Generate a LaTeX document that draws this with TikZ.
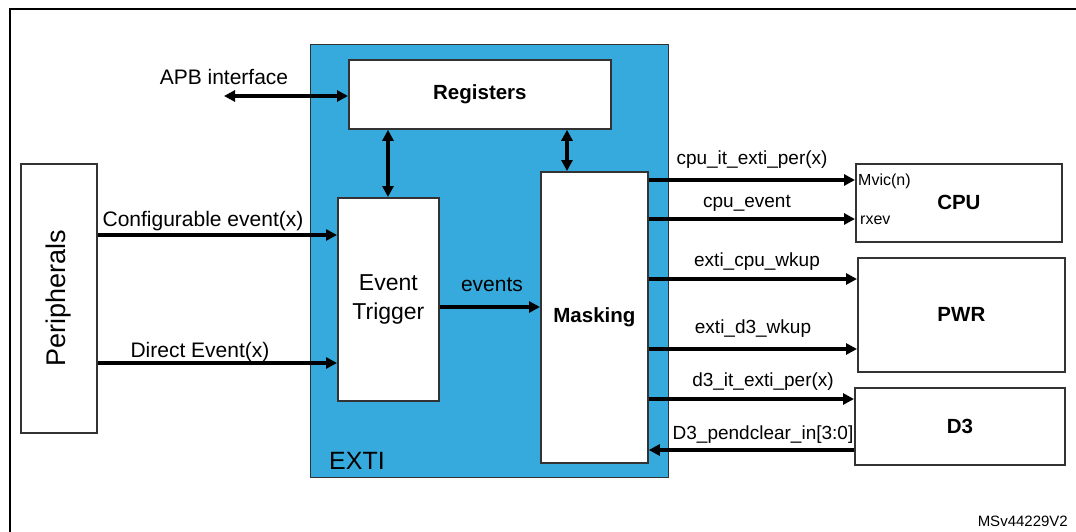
\documentclass[tikz,border=0pt]{standalone}
\usepackage{fontspec}
\setmainfont{Liberation Sans}
\usetikzlibrary{arrows.meta}
\definecolor{extiblue}{HTML}{36AADD}
\definecolor{edge}{HTML}{333333}
\tikzset{
  box/.style={draw=edge, line width=1.8pt, fill=white, anchor=north west, inner sep=0pt, align=center},
  arr/.style={line width=4pt, -{Triangle[length=11pt,width=11pt]}},
  darr/.style={line width=4pt, {Triangle[length=11pt,width=11pt]}-{Triangle[length=11pt,width=11pt]}},
  lbl/.style={font=\fontsize{19}{22}\selectfont, inner sep=0pt},
  lbll/.style={font=\fontsize{21}{24}\selectfont, inner sep=0pt},
  bold/.style={font=\fontsize{20.5}{24}\selectfont\bfseries},
  small/.style={font=\fontsize{16}{18}\selectfont, inner sep=0pt},
  tiny/.style={font=\fontsize{15}{18}\selectfont, inner sep=0pt}
}
\begin{document}
\begin{tikzpicture}[x=1pt,y=-1pt]
\useasboundingbox (0,0) rectangle (1076,532);
% outer frame
\draw[line width=2.5pt] (10,532) -- (10,9) -- (1076,9);
% EXTI block
\node[draw=edge, line width=1.3pt, fill=extiblue, anchor=north west, minimum width=358pt, minimum height=433pt, inner sep=0pt] (exti) at (310,44) {};
\node[font=\fontsize{25}{28}\selectfont, anchor=west, inner sep=0pt] (extilbl) at (329,461) {EXTI};
% boxes
\node[box, bold, minimum width=262pt, minimum height=69pt] (reg) at (348,59) {Registers};
\node[box, minimum width=101pt, minimum height=203pt, font=\fontsize{23}{29}\selectfont] (et) at (337,197) {Event\\Trigger};
\node[box, bold, minimum width=107pt, minimum height=291pt] (mask) at (540,171) {Masking};
\node[box, minimum width=76pt, minimum height=269pt] (per) at (20,163) {};
\node[font=\fontsize{27}{30}\selectfont, rotate=90, inner sep=0pt] (perlbl) at (per.center) {Peripherals};
\node[box, bold, minimum width=206pt, minimum height=78pt] (cpu) at (855,163) {CPU};
\node[box, bold, minimum width=207pt, minimum height=114pt] (pwr) at (857,257) {PWR};
\node[box, bold, minimum width=210pt, minimum height=77pt] (d3) at (854,387) {D3};
\node[small, anchor=west] (mvic) at (858,181) {Mvic(n)};
\node[small, anchor=west] (rxev) at (860,220) {rxev};
% APB
\coordinate (apb) at (224,96);
\draw[darr] (apb) -- (reg.west |- apb);
\node[lbll] (apblbl) at (224,77) {APB interface};
% register links
\draw[darr] (reg.south -| 388,0) -- (et.north -| 388,0);
\draw[darr] (reg.south -| 567,0) -- (mask.north -| 567,0);
% inputs
\draw[arr] (per.east |- 0,235) -- (et.west |- 0,235);
\node[lbll] (cfglbl) at (203,221) {Configurable event(x)};
\draw[arr] (per.east |- 0,363) -- (et.west |- 0,363);
\node[lbll] (dirlbl) at (200,352) {Direct Event(x)};
\draw[arr] (et.east |- 0,307) -- (mask.west |- 0,307);
\node[lbll] (evlbl) at (492,285) {events};
% outputs
\draw[arr] (mask.east |- 0,180) -- (cpu.west |- 0,180);
\node[lbl] (l1) at (752,160) {cpu\_it\_exti\_per(x)};
\draw[arr] (mask.east |- 0,219) -- (cpu.west |- 0,219);
\node[lbl] (l2) at (747,203) {cpu\_event};
\draw[arr] (mask.east |- 0,279) -- (pwr.west |- 0,279);
\node[lbl] (l3) at (757,262) {exti\_cpu\_wkup};
\draw[arr] (mask.east |- 0,349) -- (pwr.west |- 0,349);
\node[lbl] (l4) at (753,329) {exti\_d3\_wkup};
\draw[arr] (mask.east |- 0,399) -- (d3.west |- 0,399);
\node[lbl] (l5) at (763,382) {d3\_it\_exti\_per(x)};
\draw[arr] (d3.west |- 0,450) -- (mask.east |- 0,450);
\node[lbl] (l6) at (763,435) {D3\_pendclear\_in[3:0]};
% reference code
\node[tiny, anchor=east] (ref) at (1068,521) {MSv44229V2};
\end{tikzpicture}
\end{document}
